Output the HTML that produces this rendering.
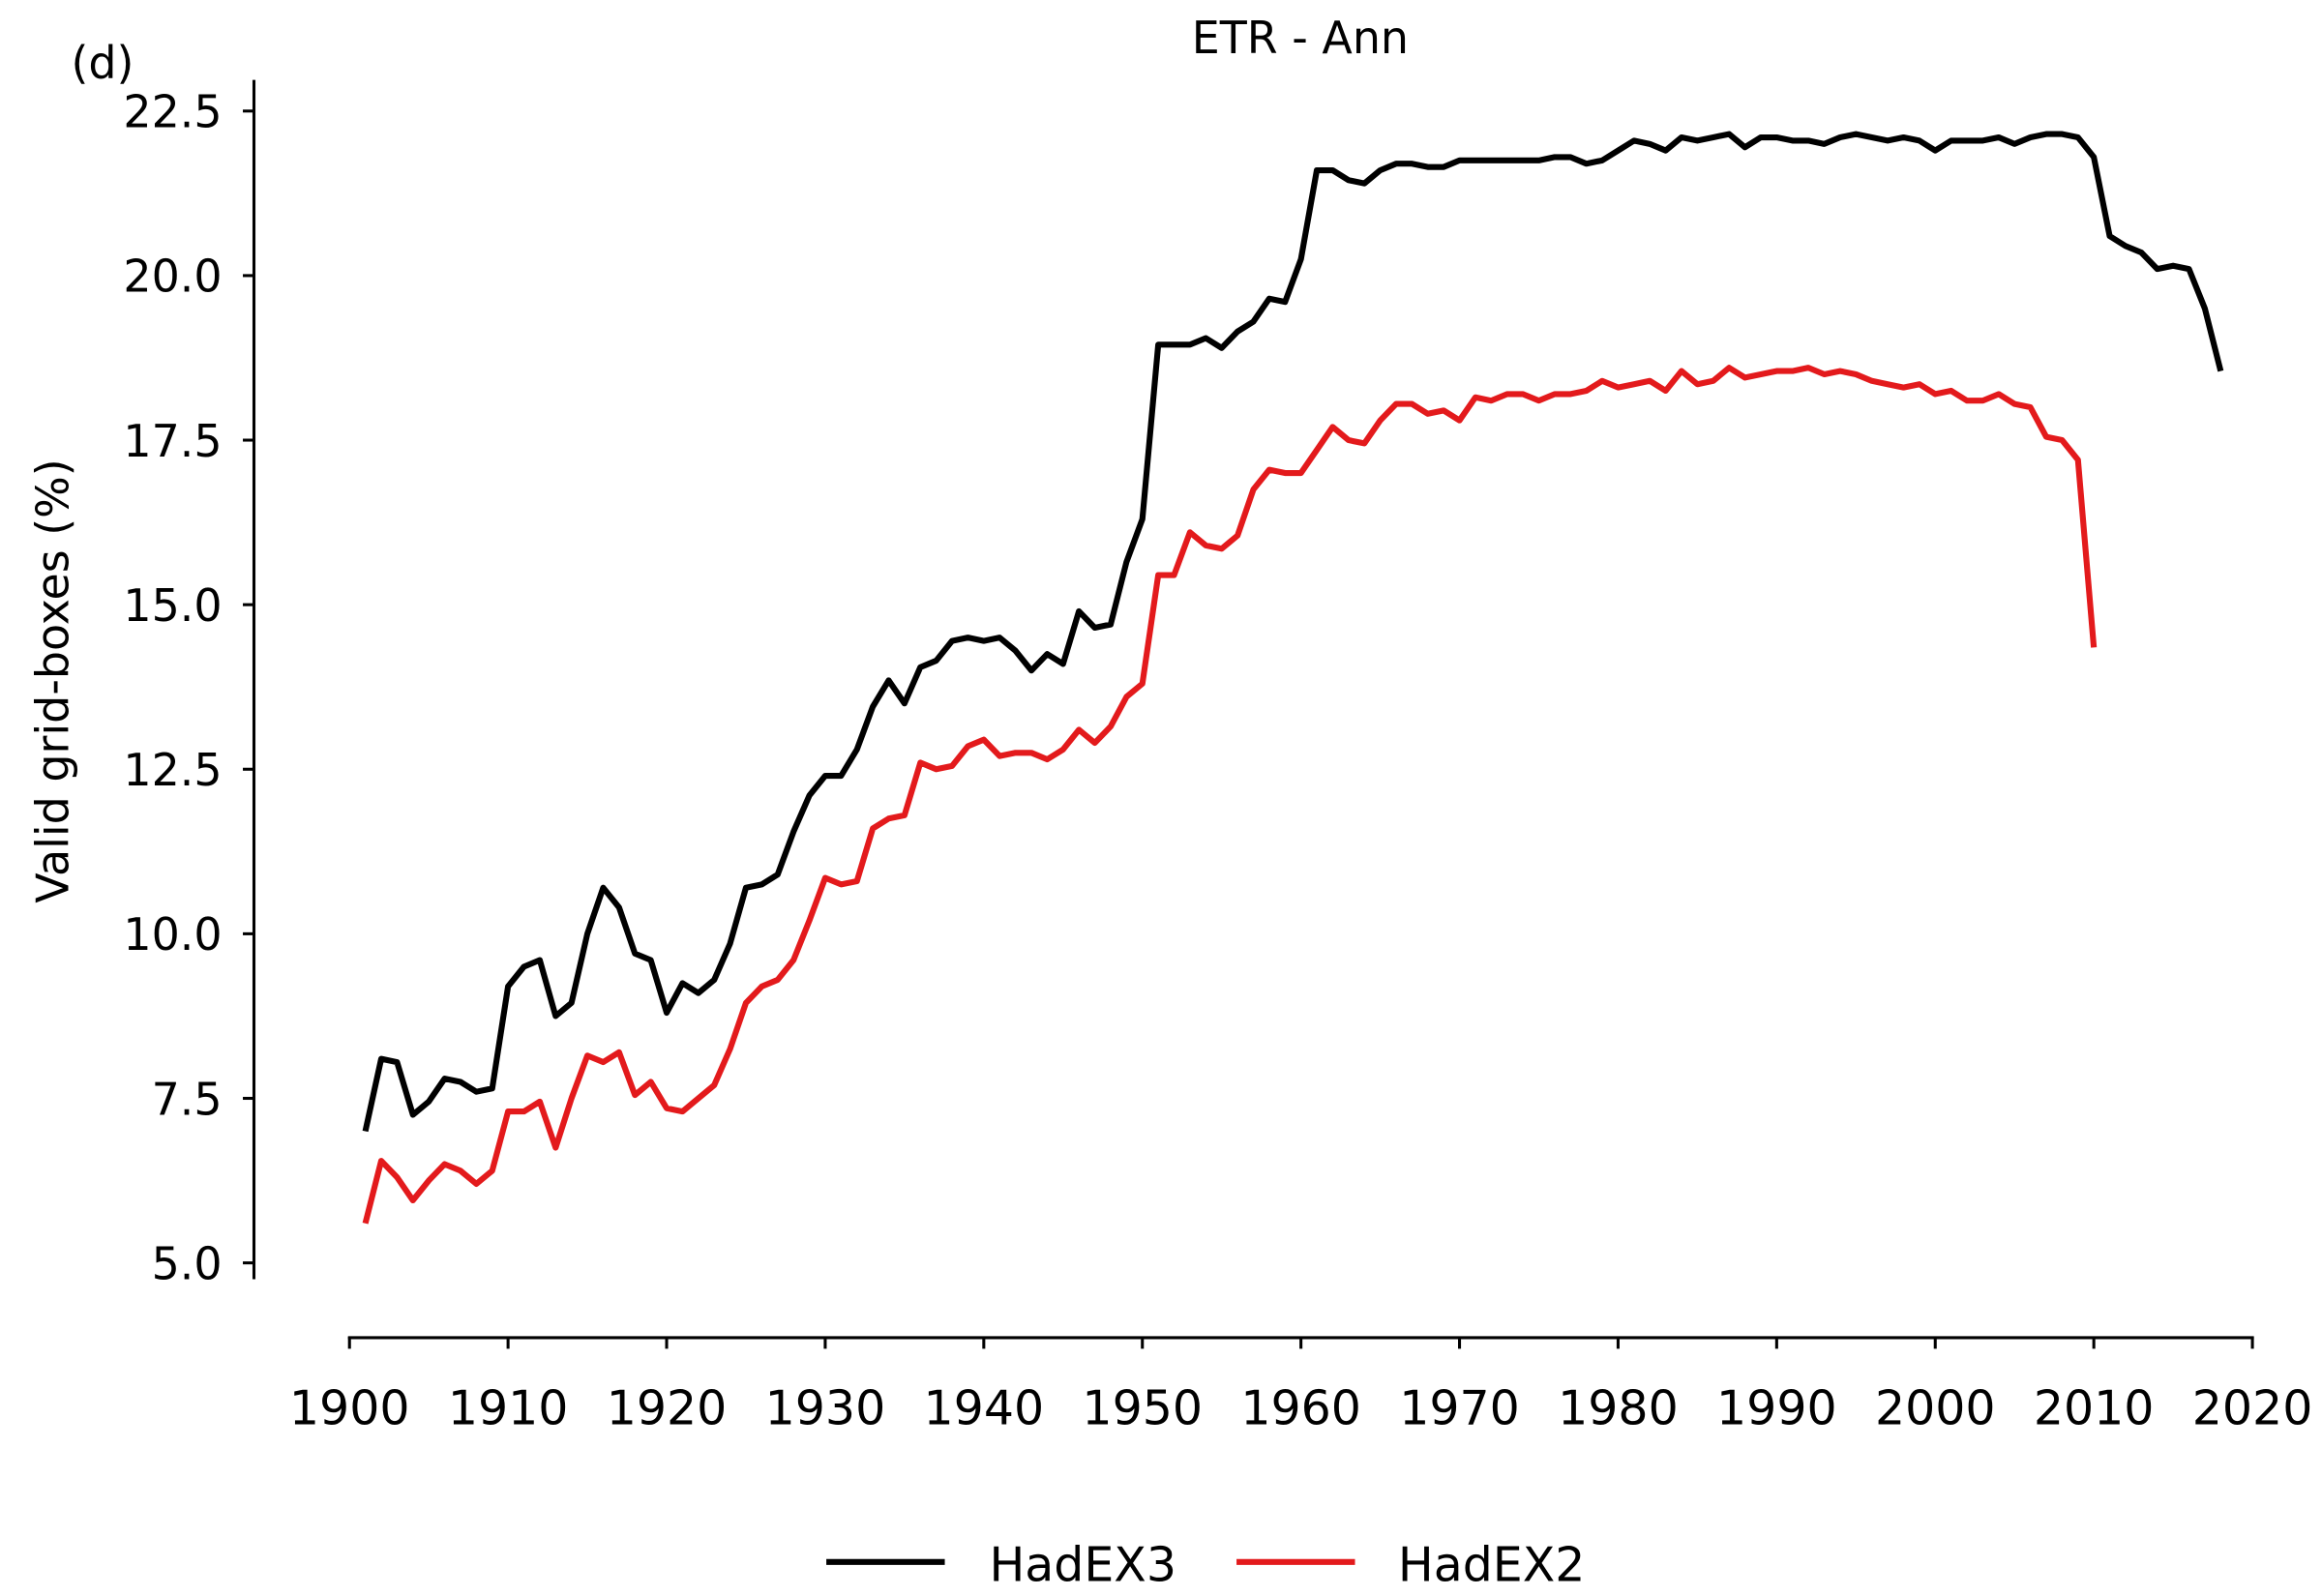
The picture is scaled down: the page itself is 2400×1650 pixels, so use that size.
<!DOCTYPE html>
<html><head><meta charset="utf-8"><style>
html,body{margin:0;padding:0;background:#fff}
svg{display:block}
text{font-family:"DejaVu Sans","Liberation Sans",sans-serif;fill:#000}
</style></head><body>
<svg id="chart" width="2400" height="1650" viewBox="0 0 1568 1078">
<text x="878" y="36" font-size="30" text-anchor="middle">ETR - Ann</text>
<text x="48" y="53" font-size="30">(d)</text>
<text transform="translate(46,460) rotate(-90)" font-size="30" text-anchor="middle">Valid grid-boxes (%)</text>
<line x1="171.5" y1="54" x2="171.5" y2="864" stroke="#000" stroke-width="2"/>
<line x1="235" y1="903.5" x2="1522" y2="903.5" stroke="#000" stroke-width="2"/>
<g id="yticks"></g><g id="xticks"></g><g id="series"></g>
<g>
<line x1="558" y1="1055" x2="638" y2="1055" stroke="#000" stroke-width="4"/>
<text x="668" y="1068" font-size="32">HadEX3</text>
<line x1="835" y1="1055" x2="915" y2="1055" stroke="#e31a1c" stroke-width="4"/>
<text x="944" y="1068" font-size="32">HadEX2</text>
</g>
</svg>
<script>
const yTicks = [5.0, 7.5, 10.0, 12.5, 15.0, 17.5, 20.0, 22.5];
const xTicks = [1900, 1910, 1920, 1930, 1940, 1950, 1960, 1970, 1980, 1990, 2000, 2010, 2020];
const hadex3Start = 1901;
const hadex3 = [7.0,8.1,8.05,7.25,7.45,7.8,7.75,7.6,7.65,9.2,9.5,9.6,8.75,8.95,10.0,10.7,10.4,9.7,9.6,8.8,9.25,9.1,9.3,9.85,10.7,10.75,10.9,11.55,12.1,12.4,12.4,12.8,13.45,13.85,13.5,14.05,14.15,14.45,14.5,14.45,14.5,14.3,14.0,14.25,14.1,14.9,14.65,14.7,15.65,16.3,18.95,18.95,18.95,19.05,18.9,19.15,19.3,19.65,19.6,20.25,21.6,21.6,21.45,21.4,21.6,21.7,21.7,21.65,21.65,21.75,21.75,21.75,21.75,21.75,21.75,21.8,21.8,21.7,21.75,21.9,22.05,22.0,21.9,22.1,22.05,22.1,22.15,21.95,22.1,22.1,22.05,22.05,22.0,22.1,22.15,22.1,22.05,22.1,22.05,21.9,22.05,22.05,22.05,22.1,22.0,22.1,22.15,22.15,22.1,21.8,20.6,20.45,20.35,20.1,20.15,20.1,19.5,18.55];
const hadex2Start = 1901;
const hadex2 = [5.6,6.55,6.3,5.95,6.25,6.5,6.4,6.2,6.4,7.3,7.3,7.45,6.75,7.5,8.15,8.05,8.2,7.55,7.75,7.35,7.3,7.5,7.7,8.25,8.95,9.2,9.3,9.6,10.2,10.85,10.75,10.8,11.6,11.75,11.8,12.6,12.5,12.55,12.85,12.95,12.7,12.75,12.75,12.65,12.8,13.1,12.9,13.15,13.6,13.8,15.45,15.45,16.1,15.9,15.85,16.05,16.75,17.05,17.0,17.0,17.35,17.7,17.5,17.45,17.8,18.05,18.05,17.9,17.95,17.8,18.15,18.1,18.2,18.2,18.1,18.2,18.2,18.25,18.4,18.3,18.35,18.4,18.25,18.55,18.35,18.4,18.6,18.45,18.5,18.55,18.55,18.6,18.5,18.55,18.5,18.4,18.35,18.3,18.35,18.2,18.25,18.1,18.1,18.2,18.05,18.0,17.55,17.5,17.2,14.35];
const NS = 'http://www.w3.org/2000/svg';
function xs(yr){ return 236 + (yr - 1900) * (1521 - 236) / 120; }
function ys(v){ return 853 - (v - 5) * (853 - 75) / 17.5; }
const yg = document.getElementById('yticks');
yTicks.forEach(v => {
  const l = document.createElementNS(NS,'line');
  
  
  l.setAttribute('x1',164); l.setAttribute('x2',171); l.setAttribute('y1',ys(v)); l.setAttribute('y2',ys(v));
  l.setAttribute('stroke','#000'); l.setAttribute('stroke-width','2');
  yg.appendChild(l);
  const t = document.createElementNS(NS,'text');
  
  
  t.setAttribute('x',150); t.setAttribute('y',ys(v)+11); t.setAttribute('font-size','30'); t.setAttribute('text-anchor','end');
  t.textContent = v.toFixed(1);
  yg.appendChild(t);
});
const xg = document.getElementById('xticks');
xTicks.forEach(yr => {
  const l = document.createElementNS(NS,'line');
  
  
  l.setAttribute('x1',xs(yr)); l.setAttribute('x2',xs(yr)); l.setAttribute('y1',903); l.setAttribute('y2',911);
  l.setAttribute('stroke','#000'); l.setAttribute('stroke-width','2');
  xg.appendChild(l);
  const t = document.createElementNS(NS,'text');
  
  
  t.setAttribute('x',xs(yr)); t.setAttribute('y',962); t.setAttribute('font-size','32'); t.setAttribute('text-anchor','middle');
  t.textContent = yr;
  xg.appendChild(t);
});
function drawLine(vals, start, color, name){
  const p = document.createElementNS(NS,'polyline');
  
  
  p.setAttribute('points', vals.map((v,i)=>xs(start+i).toFixed(2)+','+ys(v).toFixed(2)).join(' '));
  p.setAttribute('fill','none'); p.setAttribute('stroke',color); p.setAttribute('stroke-width','4');
  p.setAttribute('stroke-linejoin','round');
  document.getElementById('series').appendChild(p);
}
drawLine(hadex2, hadex2Start, '#e31a1c', 'hadex2-line');
drawLine(hadex3, hadex3Start, '#000000', 'hadex3-line');
</script>
</body></html>
